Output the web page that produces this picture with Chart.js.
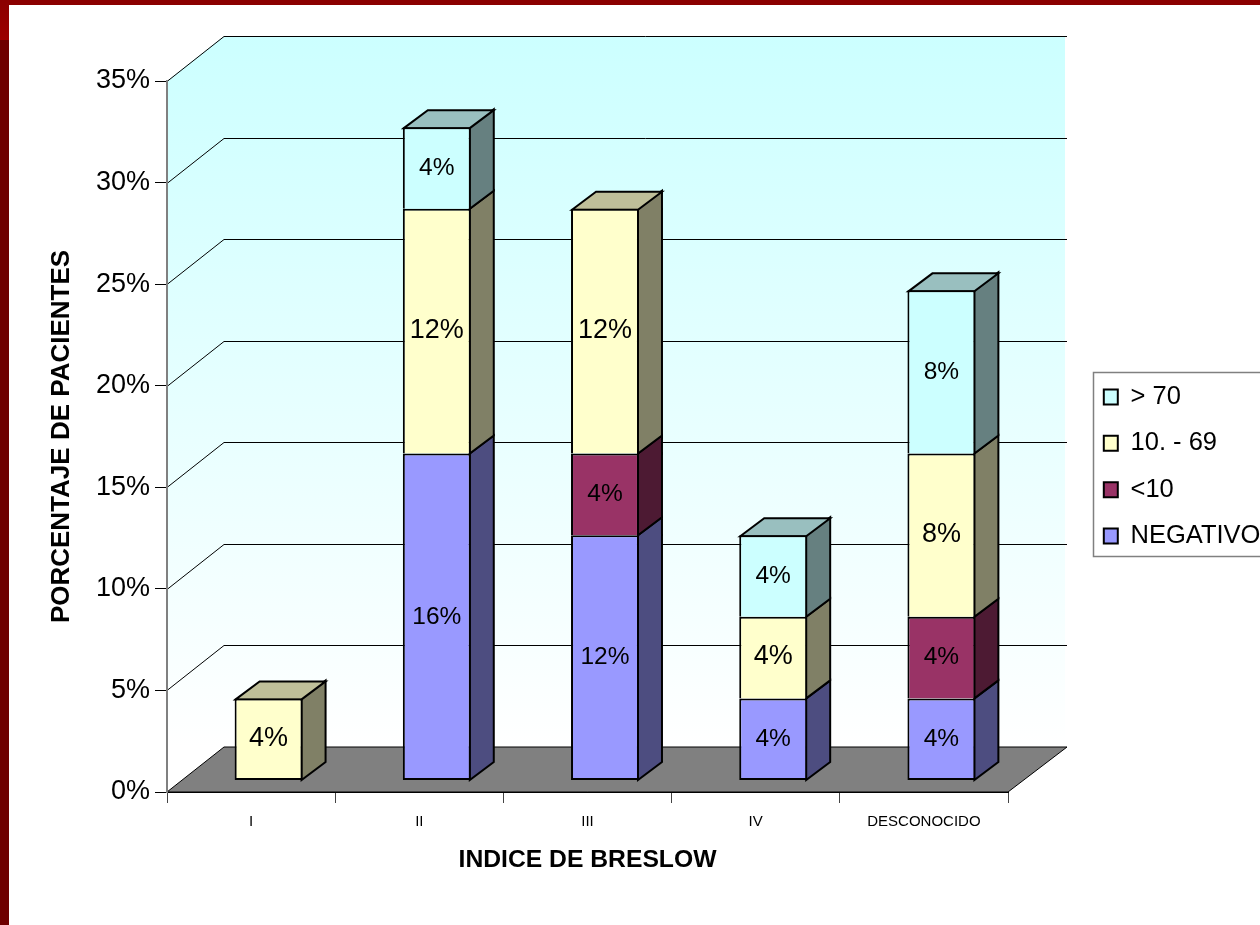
<!DOCTYPE html>
<html>
<head>
<meta charset="utf-8">
<title>Indice de Breslow</title>
<script src="https://cdn.jsdelivr.net/npm/chart.js@4"></script>
<style>
  html, body { margin: 0; padding: 0; background: #fff; overflow: hidden; }
  #_canvasc { position: absolute; left: 0; top: 0; }
  .band { position: absolute; }
</style>
</head>
<body>
<div class="band" style="left:0;top:0;width:1260px;height:5px;background:#8b0000"></div>
<div class="band" style="left:0;top:0;width:9px;height:40px;background:linear-gradient(#8b0000,#9c0000)"></div>
<div class="band" style="left:0;top:40px;width:9px;height:885px;background:#6e0000"></div>
<canvas id="_canvasc" width="1260" height="925"></canvas>
<script>
	// ******************************************************** DATA
var categories = ["I", "II", "III", "IV", "DESCONOCIDO"];
var negativo   = [null, 16, 12, 4, 4];
var menor10    = [null, null, 4, null, 4];
var de10a69    = [4, 12, 12, 4, 8];
var mayor70    = [null, 4, null, 4, 8];
var yTicksMax  = 35;
var yStep      = 5;

	// ******************************************************** 3D BOX
// offset of the back wall from the axis plane, and of the bars inside the box
var WALL = { dx: 57, dy: -45 };
var BAR  = { dx: 17.5, dy: -12, depthX: 24, depthY: -18 };

function poly(ctx, pts, fill, line, width) {
	ctx.beginPath();
	ctx.moveTo(pts[0][0], pts[0][1]);
	for (var i = 1; i < pts.length; i++) ctx.lineTo(pts[i][0], pts[i][1]);
	ctx.closePath();
	if (fill) { ctx.fillStyle = fill; ctx.fill(); }
	if (line) { ctx.strokeStyle = line; ctx.lineWidth = width; ctx.lineJoin = "miter"; ctx.stroke(); }
}

var box3d = {
	id: "box3d",
	afterLayout: function (chart) {
		// legend sits outside of the plot, on the right
		var lg = chart.legend;
		lg.left = 1083; lg.right = 1262; lg.top = 363.5; lg.bottom = 600;
	},
	beforeDraw: function (chart) {
		var ctx = chart.ctx, a = chart.chartArea, y = chart.scales.y;
		var x0 = a.left, x1 = a.right, y0 = y.getPixelForValue(0), yt = y.getPixelForValue(yTicksMax);
		var g = ctx.createLinearGradient(0, yt + WALL.dy, 0, y0 + WALL.dy);
		g.addColorStop(0, "#ccffff");
		g.addColorStop(1, "#ffffff");
		ctx.save();
		// side wall and back wall
		poly(ctx, [[x0, yt], [x0 + WALL.dx, yt + WALL.dy], [x0 + WALL.dx, y0 + WALL.dy], [x0, y0]], g);
		ctx.fillStyle = g;
		ctx.fillRect(x0 + WALL.dx, yt + WALL.dy, x1 - x0, y0 - yt);
		// grid lines
		ctx.strokeStyle = "#000";
		ctx.lineWidth = 1;
		for (var v = yStep; v <= yTicksMax; v += yStep) {
			var py = Math.round(y.getPixelForValue(v)) + 0.5;
			ctx.beginPath();
			ctx.moveTo(x0, py);
			ctx.lineTo(x0 + WALL.dx, py + WALL.dy);
			ctx.lineTo(x1 + WALL.dx + 2, py + WALL.dy);
			ctx.stroke();
		}
		// floor
		poly(ctx, [[x0, y0], [x0 + WALL.dx, y0 + WALL.dy], [x1 + WALL.dx + 2, y0 + WALL.dy], [x1, y0]], "#808080", "#000", 1);
		ctx.restore();
	},
	beforeDatasetsDraw: function (chart) {
		var ctx = chart.ctx;
		ctx.save();
		ctx.translate(BAR.dx, BAR.dy);
		// side and top faces, from the bottom of each stack up
		chart.data.datasets.forEach(function (ds, di) {
			chart.getDatasetMeta(di).data.forEach(function (el, i) {
				if (ds.data[i] == null) return;
				var r = el.x + el.width / 2 - 1, l = el.x - el.width / 2 + 1;
				var dx = BAR.depthX, dy = BAR.depthY;
				poly(ctx, [[r, el.y], [r + dx, el.y + dy], [r + dx, el.base + dy], [r, el.base]], ds.sideColor, "#000", 2);
				var above = chart.data.datasets.slice(di + 1).some(function (d) { return d.data[i] != null; });
				if (!above) poly(ctx, [[l, el.y + 1], [l + dx, el.y + dy + 1], [r + dx, el.y + dy + 1], [r, el.y + 1]], ds.topColor, "#000", 2);
			});
		});
	},
	afterDatasetsDraw: function (chart) {
		var ctx = chart.ctx;
		// value labels on the front faces
		ctx.fillStyle = "#000";
		ctx.textAlign = "center";
		ctx.textBaseline = "middle";
		chart.data.datasets.forEach(function (ds, di) {
			ctx.font = ds.labelSize + "px 'Liberation Sans'";
			chart.getDatasetMeta(di).data.forEach(function (el, i) {
				if (ds.data[i] == null) return;
				ctx.fillText(ds.data[i] + "%", el.x, (el.y + el.base) / 2 + ds.labelLift);
			});
		});
		ctx.restore();
		// legend frame
		ctx.strokeStyle = "#808080";
		ctx.lineWidth = 1.5;
		ctx.strokeRect(1093.5, 372.5, 170, 184);
	}
};

function makeSeries(name, values, color, side, top, size, lift) {
	return {
		label: name,
		data: values,
		backgroundColor: color,
		borderColor: "#000",
		borderSkipped: false,
		borderWidth: function (c) {
			var lowest = c.chart.data.datasets.slice(0, c.datasetIndex).every(function (d) { return d.data[c.dataIndex] == null; });
			return { top: 2, left: 2, right: 2, bottom: lowest ? 2 : 0 };
		},
		inflateAmount: 0,
		barPercentage: 0.404,
		categoryPercentage: 1,
		clip: false,
		yAxisID: "barY",
		sideColor: side,
		topColor: top,
		labelSize: size,
		labelLift: lift
	};
}

	// ******************************************************** CHART
var config = {
	type: "bar",
	data: {
		labels: categories,
		datasets: [
			makeSeries("NEGATIVO", negativo, "#9999ff", "#4d4d80", "#7373bf", 24.5, 0),
			makeSeries("<10", menor10, "#993366", "#4d1a33", "#73264d", 24.5, 0),
			makeSeries("10. - 69", de10a69, "#ffffcc", "#808066", "#bfbf99", 27, -1),
			makeSeries("> 70", mayor70, "#ccffff", "#668080", "#99bfbf", 24.5, 0)
		]
	},
	options: {
		responsive: false,
		animation: false,
		events: [],
		layout: { autoPadding: false, padding: { top: 81, right: 252, left: 0, bottom: 0 } },
		plugins: {
			tooltip: { enabled: false },
			legend: {
				position: "chartArea",
				align: "start",
				reverse: true,
				labels: {
					color: "#000",
					font: { family: "'Liberation Sans'", size: 25.5 },
					boxWidth: 14,
					boxHeight: 15,
					padding: 20.8,
					generateLabels: function (chart) {
						return Chart.defaults.plugins.legend.labels.generateLabels(chart).map(function (it) {
							it.lineWidth = 2;
							return it;
						});
					}
				}
			}
		},
		scales: {
			x: {
				stacked: true,
				afterFit: function (s) { s.height = 133; },
				border: { color: "#000", width: 1 },
				grid: { drawOnChartArea: false, tickLength: 11, color: "#444" },
				ticks: { color: "#000", font: { family: "'Liberation Sans'", size: 15 }, padding: 10, maxRotation: 0, autoSkip: false },
				title: { display: true, text: "INDICE DE BRESLOW", color: "#000", font: { family: "'Liberation Sans'", size: 24.7, weight: "bold" }, padding: { top: 0, bottom: 50 } }
			},
			y: {
				min: 0,
				max: yTicksMax,
				afterFit: function (s) { s.width = 167; },
				border: { color: "#808080", width: 2 },
				grid: { drawOnChartArea: false, tickLength: 12, color: "#000" },
				ticks: { stepSize: yStep, color: "#000", font: { family: "'Liberation Sans'", size: 27 }, padding: 5, callback: function (v) { return v + "%"; } },
				title: { display: true, text: "PORCENTAJE DE PACIENTES", color: "#000", font: { family: "'Liberation Sans'", size: 26, weight: "bold" }, padding: { top: 46, bottom: 0 } }
			},
			// the bars stand nearer than the back wall, so their scale runs a little larger
			barY: { display: false, stacked: true, min: 0, max: 34.85 }
		}
	},
	plugins: [box3d]
};

var _canvasc = document.getElementById("_canvasc");
var _ctxc = _canvasc.getContext("2d");
window.myBars = new Chart(_ctxc, config);
</script>
</body>
</html>
